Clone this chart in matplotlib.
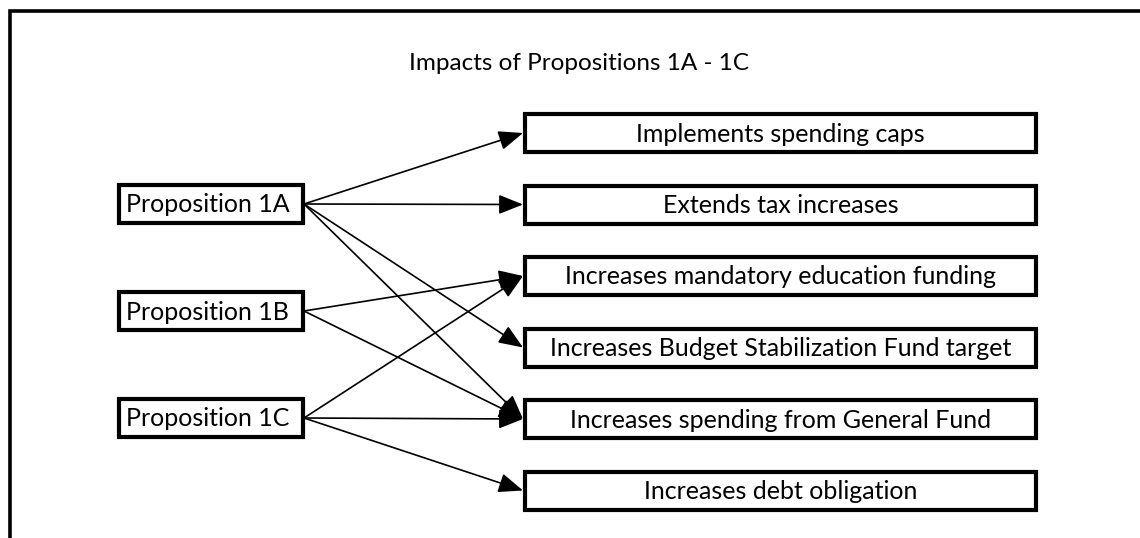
import matplotlib.pyplot as plt
from matplotlib.patches import Rectangle, FancyArrowPatch

# data
title = "Impacts of Propositions 1A - 1C"
propositions = ["Proposition 1A", "Proposition 1B", "Proposition 1C"]
impacts = ["Implements spending caps",
           "Extends tax increases",
           "Increases mandatory education funding",
           "Increases Budget Stabilization Fund target",
           "Increases spending from General Fund",
           "Increases debt obligation"]
# which impacts each proposition points to (indices into impacts)
links_1a = [0, 1, 3, 4]
links_1b = [2, 4]
links_1c = [2, 4, 5]
links = [links_1a, links_1b, links_1c]

plt.rcParams['font.family'] = ['Lato', 'DejaVu Sans']

fig = plt.figure(figsize=(11.4, 5.38), dpi=100)
ax = fig.add_axes([0, 0, 1, 1])
ax.set_xlim(0, 1140)
ax.set_ylim(538, 0)
ax.axis('off')

# outer frame (left and top only)
ax.plot([9.5, 9.5, 1140], [538, 10.5, 10.5], color='black', lw=2.6,
        solid_joinstyle='miter')

ax.text(579, 63, title, ha='center', va='center', fontsize=17.5)

box_h = 38
# right column
rx0, rx1 = 525, 1036
r_tops = [114 + 71.5 * i for i in range(len(impacts))]
r_mid = []
for lab, top in zip(impacts, r_tops):
    ax.add_patch(Rectangle((rx0, top), rx1 - rx0, box_h, fill=False,
                           ec='black', lw=3, joinstyle='miter'))
    ax.text((rx0 + rx1) / 2, top + box_h / 2 + 1, lab, ha='center',
            va='center', fontsize=18)
    r_mid.append(top + box_h / 2)

# left column
lx0, lx1 = 119, 303
l_tops = [185, 292, 399]
l_mid = []
for lab, top in zip(propositions, l_tops):
    ax.add_patch(Rectangle((lx0, top), lx1 - lx0, box_h, fill=False,
                           ec='black', lw=3, joinstyle='miter'))
    ax.text(lx0 + 7, top + box_h / 2 + 1, lab, ha='left', va='center',
            fontsize=18)
    l_mid.append(top + box_h / 2)

# arrows
for i, targets in enumerate(links):
    for j in targets:
        arr = FancyArrowPatch((lx1 + 1, l_mid[i]), (rx0 - 2, r_mid[j]),
                              arrowstyle='-|>,head_length=1.5,head_width=0.6',
                              mutation_scale=10, color='black', lw=1.2,
                              shrinkA=0, shrinkB=0)
        ax.add_patch(arr)

fig.savefig('out.png', dpi=100)
